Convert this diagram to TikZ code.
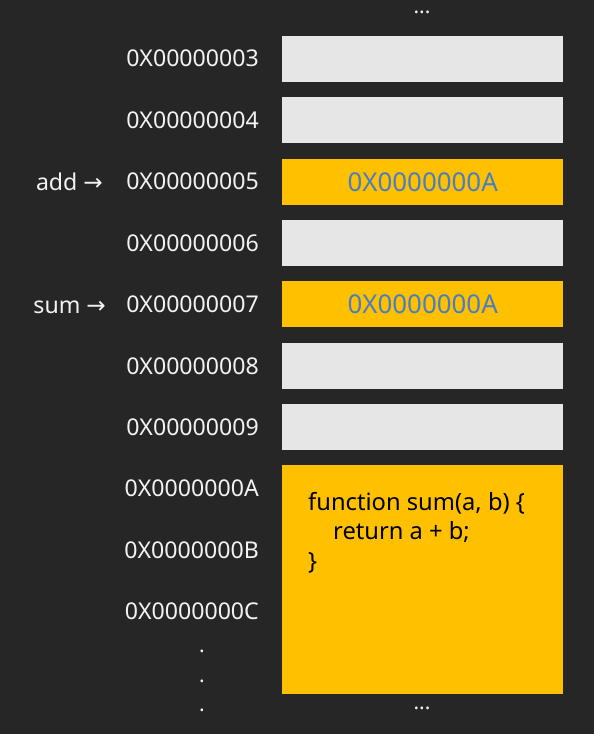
\documentclass[tikz,border=0pt]{standalone}
\usepackage{fontspec}
\setmainfont{Noto Sans}
\newfontfamily\arrfont{DejaVu Sans}
\definecolor{bg}{HTML}{262626}
\definecolor{cellgray}{HTML}{E6E6E6}
\definecolor{cellyel}{HTML}{FFC000}
\definecolor{addrblue}{HTML}{4A7EC4}
\definecolor{lbl}{HTML}{F2F2F2}
\begin{document}
\begin{tikzpicture}[x=1bp,y=-1bp,
  cell/.style={draw=none,minimum width=281bp,minimum height=46bp,inner sep=0pt,anchor=north west},
  graycell/.style={cell,fill=cellgray},
  yelcell/.style={cell,fill=cellyel},
  addr/.style={anchor=base east,text=lbl,font=\fontsize{23.2}{26}\selectfont,inner sep=0pt},
  ptr/.style={anchor=base east,text=lbl,font=\fontsize{23.2}{26}\selectfont,inner sep=0pt},
  val/.style={text=addrblue,font=\fontsize{26}{30}\selectfont,inner sep=0pt},
  code/.style={anchor=base west,text=black,font=\fontsize{23.8}{26}\selectfont,inner sep=0pt},
  dotlbl/.style={anchor=base,text=lbl,font=\fontsize{21}{24}\selectfont\bfseries,inner sep=0pt}]
\fill[bg] (0,0) rectangle (594,734);
\useasboundingbox (0,0) rectangle (594,734);
% cells
\node[graycell] (c3) at (282,36) {};
\node[graycell] (c4) at (282,97.3) {};
\node[yelcell] (c5) at (282,158.6) {};
\node[graycell] (c6) at (282,219.9) {};
\node[yelcell] (c7) at (282,281.2) {};
\node[graycell] (c8) at (282,342.5) {};
\node[graycell] (c9) at (282,403.8) {};
\node[yelcell,minimum height=229bp] (cA) at (282,465) {};
% values
\node[val,anchor=base] (v5) at ([yshift=-9.5bp]c5.center) {0X0000000A};
\node[val,anchor=base] (v7) at ([yshift=-9.5bp]c7.center) {0X0000000A};
% code
\node[code] (l1) at (308,510) {function sum(a, b) \{};
\node[code] (l2) at (333,539.5) {return a + b;};
\node[code] (l3) at (308,569) {\}};
% addresses
\node[addr] (a3) at (259,67) {0X00000003};
\node[addr] (a4) at (259,128.4) {0X00000004};
\node[addr] (a5) at (259,189.8) {0X00000005};
\node[addr] (a6) at (259,251.2) {0X00000006};
\node[addr] (a7) at (259,312.6) {0X00000007};
\node[addr] (a8) at (259,374) {0X00000008};
\node[addr] (a9) at (259,435.4) {0X00000009};
\node[addr] (aA) at (259,496.8) {0X0000000A};
\node[addr] (aB) at (259,558.2) {0X0000000B};
\node[addr] (aC) at (259,619.6) {0X0000000C};
% pointers
\node[ptr] (padd) at (103,190.5) {add {\arrfont →}};
\node[ptr] (psum) at (106,313) {sum {\arrfont →}};
% dots
\node[dotlbl] (d1) at (202,652) {.};
\node[dotlbl] (d2) at (202,682) {.};
\node[dotlbl] (d3) at (202,711) {.};
\node[dotlbl] (top) at (422,14) {...};
\node[dotlbl] (bot) at (422,709) {...};
\end{tikzpicture}
\end{document}
